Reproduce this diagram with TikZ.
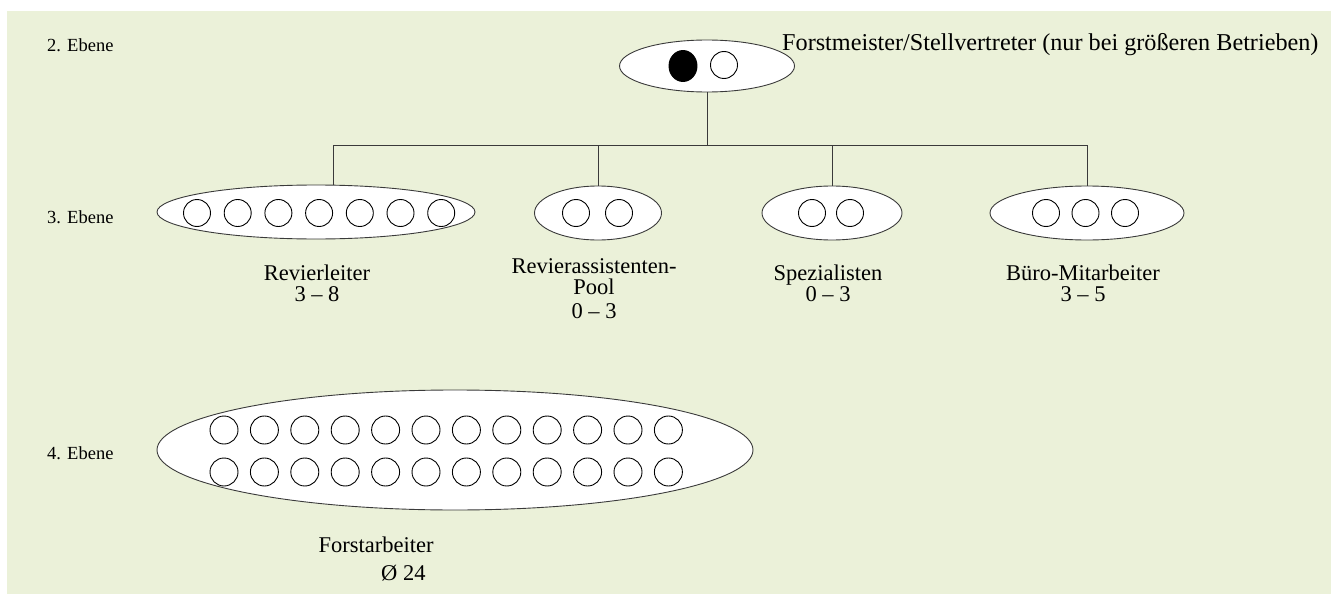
\documentclass[tikz,border=0pt]{standalone}
\usepackage{fontspec}
\setmainfont{Liberation Serif}
\usetikzlibrary{shapes.geometric}
\definecolor{bgcol}{HTML}{EBF1D9}
\definecolor{linecol}{HTML}{3A3A3A}
\tikzset{
  grp/.style={ellipse, draw=linecol, line width=0.9pt, fill=white, inner sep=0pt},
  person/.style={circle, draw=black, line width=0.9pt, fill=white, inner sep=0pt, minimum size=27pt},
  boss/.style={person, fill=black},
  link/.style={draw=linecol, line width=0.9pt},
  lbl/.style={font=\fontsize{22.5}{21}\selectfont, align=center, inner sep=0pt},
  lvl/.style={font=\fontsize{18.5}{21}\selectfont, anchor=west, inner sep=0pt}
}
\begin{document}
\begin{tikzpicture}[x=1pt, y=-1pt]
  \useasboundingbox (0,0) rectangle (1331,594);
  \fill[bgcol] (7,11) rectangle (1331,594);

  % level labels
  \node[lvl] (e2) at (47,45) {2. Ebene};
  \node[lvl] (e3) at (47,217) {3. Ebene};
  \node[lvl] (e4) at (47,453) {4. Ebene};

  % head of the unit
  \node[grp, minimum width=175pt, minimum height=52pt] (top) at (707,66) {};
  \node[boss, minimum height=31pt, minimum width=28pt, ellipse] (head) at (683,66) {};
  \node[person] (deputy) at (724,65) {};
  \node[lbl, anchor=west, font=\fontsize{24.2}{24}\selectfont] (toplbl) at (782,45) {Forstmeister/Stellvertreter (nur bei größeren Betrieben)};

  % third level groups
  \node[grp, minimum width=318pt, minimum height=54pt] (rl) at (316,212) {};
  \foreach \i in {0,...,6} \node[person] (rl-\i) at (197+40.7*\i,213) {};
  \node[grp, minimum width=127pt, minimum height=54pt] (pool) at (598,213) {};
  \foreach \i in {0,1} \node[person] (pool-\i) at (576+43*\i,213) {};
  \node[grp, minimum width=140pt, minimum height=54pt] (spez) at (832,213) {};
  \foreach \i in {0,1} \node[person] (spez-\i) at (812+38*\i,213) {};
  \node[grp, minimum width=194pt, minimum height=54pt] (buero) at (1087,213) {};
  \foreach \i in {0,1,2} \node[person] (buero-\i) at (1046+39.5*\i,213) {};

  % fourth level group
  \node[grp, minimum width=596pt, minimum height=120pt] (fa) at (455,450) {};
  \foreach \i in {0,...,11} {
    \node[person, minimum size=28pt] (fa-a\i) at (224+40.4*\i,430) {};
    \node[person, minimum size=28pt] (fa-b\i) at (224+40.4*\i,472) {};
  }

  % connectors
  \coordinate (busL) at (333,145);
  \coordinate (busR) at (1087,145);
  \draw[link] (top.south) -- (top.south |- busL);
  \draw[link] (busL) -- (busR);
  \draw[link] (busL) -- (busL |- rl.north);
  \draw[link] (pool.north |- busL) -- (pool.north);
  \draw[link] (spez.north |- busL) -- (spez.north);
  \draw[link] (busR) -- (buero.north);

  % captions
  \node[lbl] (rllbl) at (317,283) {Revierleiter\\3 – 8};
  \node[lbl] (poollbl) at (594,289) {Revierassistenten-\\Pool\\[3pt]0 – 3};
  \node[lbl] (spezlbl) at (828,283) {Spezialisten\\0 – 3};
  \node[lbl] (buerolbl) at (1083,283) {Büro-Mitarbeiter\\3 – 5};
  \node[lbl] (falbl) at (376,545) {Forstarbeiter};
  \node[lbl, anchor=west] (fanum) at (381,573) {Ø 24};
\end{tikzpicture}
\end{document}
